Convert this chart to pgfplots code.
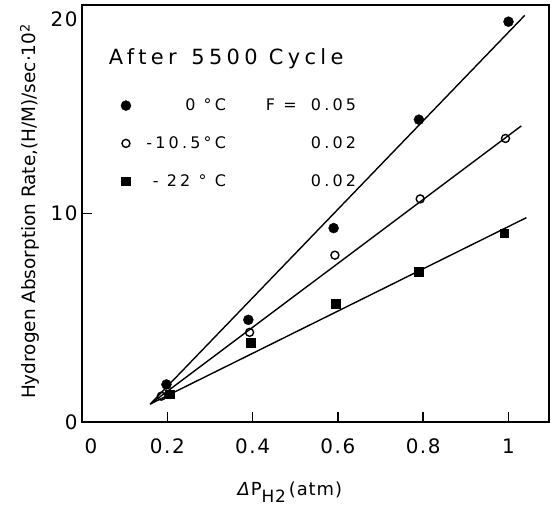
\documentclass[border=0pt]{standalone}
\usepackage{pgfplots}
\pgfplotsset{compat=1.18}
\usepackage{fontspec}
\setmainfont{DejaVu Sans}
\newcommand{\legrow}[3]{\hspace*{9bp}\makebox[84bp][r]{#1}\hspace{40bp}\makebox[45bp][l]{#2}#3}
\begin{document}
\begin{tikzpicture}
\begin{axis}[
  scale only axis, width=467bp, height=417bp,
  xmin=0, xmax=1.095, ymin=0, ymax=20,
  xtick={0,0.2,0.4,0.6,0.8,1}, xticklabels={\hspace*{18bp}0,0.2,0.4,0.6,0.8,1},
  ytick={0,10}, yticklabels={0,10},
  extra y ticks={19.3}, extra y tick labels={20},
  extra y tick style={major tick length=0pt},
  tick align=inside, major tick length=10bp,
  xtick pos=bottom, ytick pos=left,
  axis line style={line width=1.6pt},
  tick style={line width=1.4pt, black},
  /pgf/number format/assume math mode=true,
  ticklabel style={font=\fontsize{20}{22}\selectfont\addfontfeature{LetterSpace=8}},
  xticklabel style={yshift=-13bp},
  yticklabel style={xshift=-1bp},
  xlabel={\textit{Δ}P\raisebox{-0.4em}{\fontsize{17}{18}\selectfont H2}\,(atm)},
  ylabel={Hydrogen Absorption Rate,(H/M)/sec·10\textsuperscript{2}},
  every axis x label/.style={at={(axis description cs:0.445,0)}, yshift=-70bp, anchor=center,
    font=\fontsize{18}{20}\selectfont\addfontfeature{LetterSpace=5}},
  every axis y label/.style={at={(axis description cs:0,0.505)}, xshift=-52bp, rotate=90, anchor=center,
    font=\fontsize{18.5}{21}\selectfont},
  legend style={at={(axis description cs:0.083,0.78)}, anchor=north west, draw=none, fill=none,
    font=\fontsize{16}{18}\selectfont\addfontfeature{LetterSpace=20}, row sep=20.5bp, inner sep=0pt},
  legend cell align=left,
]
\addplot[black, line width=1.4pt, forget plot] coordinates {(0.16,0.86) (1.038,19.5)};
\addplot[black, line width=1.4pt, forget plot] coordinates {(0.16,0.86) (1.03,14.2)};
\addplot[black, line width=1.4pt, forget plot] coordinates {(0.16,0.86) (1.042,9.8)};
\addplot[only marks, mark=*, mark size=5bp, black] coordinates {
  (0.198,1.8) (0.39,4.9) (0.59,9.3) (0.79,14.5) (1.0,19.2)};
\addlegendentry{\legrow{0 °C}{F = }{0.05}}
\addplot[only marks, mark=o, mark size=4bp, black, mark options={line width=1.4pt, fill=white}] coordinates {
  (0.186,1.24) (0.393,4.3) (0.593,8.0) (0.793,10.7) (0.993,13.6)};
\addlegendentry{\legrow{-10.5°C}{}{0.02}}
\addplot[only marks, mark=square*, mark size=4.3bp, black] coordinates {
  (0.205,1.33) (0.395,3.8) (0.595,5.67) (0.79,7.2) (0.99,9.05)};
\addlegendentry{\legrow{- 22 ° C}{}{0.02}}
\node[anchor=base west, font=\fontsize{21}{23}\selectfont\addfontfeature{LetterSpace=21}] at (axis cs:0.055,17.15) {After\, 5500 Cycle};
\end{axis}
\pgfresetboundingbox
\path[use as bounding box] ([shift={(-82bp,-93bp)}]current axis.south west) rectangle ([shift={(9bp,5bp)}]current axis.north east);
\end{tikzpicture}
\end{document}
